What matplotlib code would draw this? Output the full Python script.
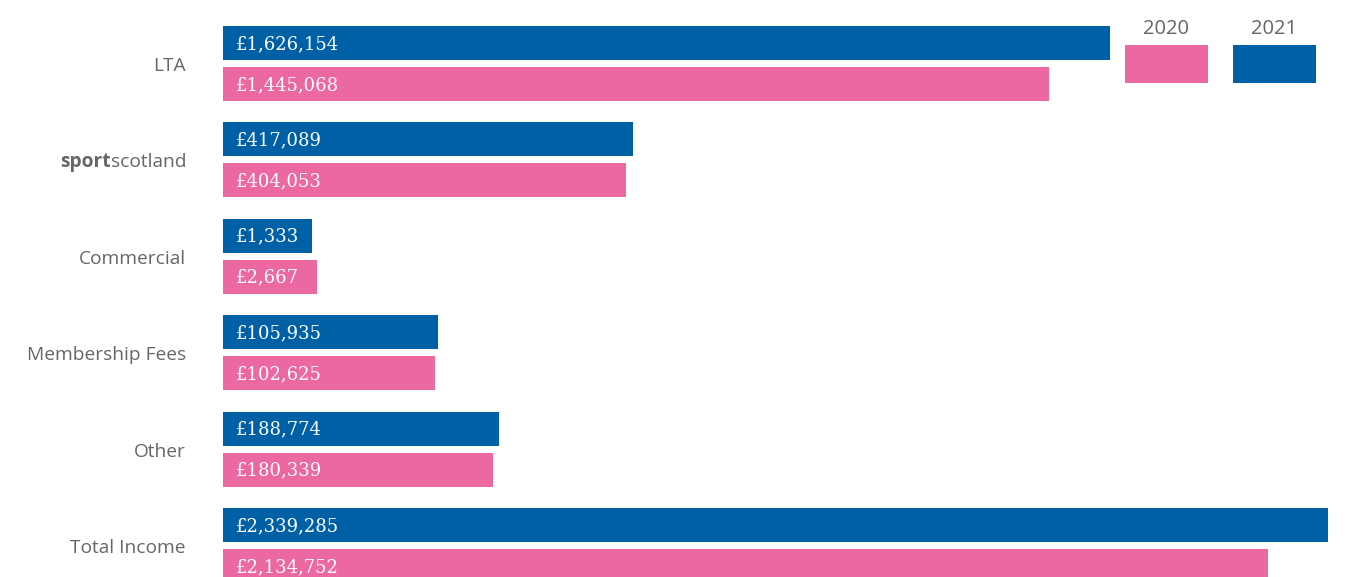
import numpy as np
import matplotlib; matplotlib.use("Agg"); import matplotlib.pyplot as plt
from matplotlib.patches import Rectangle

categories = ["LTA", "sportscotland", "Commercial", "Membership Fees", "Other", "Total Income"]
income_2021 = [1626154, 417089, 1333, 105935, 188774, 2339285]
income_2020 = [1445068, 404053, 2667, 102625, 180339, 2134752]
years = ["2020", "2021"]

blue = "#0060A6"; pink = "#EC68A1"; grey = "#666666"
W, H, DPI = 1365, 577, 100
PX = 72 / DPI  # points per pixel

# bar length scale: a floor wide enough for the label, then a power curve
p = 0.66; floor = 82.0; c = 0.064
fwd = lambda v: np.where(np.asarray(v) > 0, floor + c * np.abs(v) ** p, 0.0)
inv = lambda x: np.where(np.asarray(x) > floor, (np.clip(x - floor, 0, None) / c) ** (1 / p), 0.0)

fig = plt.figure(figsize=(W / DPI, H / DPI), dpi=DPI)
left = 223
ax = fig.add_axes([left / W, 0, (W - left) / W, 1])
ax.set_xscale("function", functions=(fwd, inv))
ax.set_xlim(0, float(inv(W - left)))
ax.set_ylim(H, 0)
ax.axis("off")

pitch, bh = 96.4, 34
y21 = [43 + pitch * i for i in range(len(categories))]
y20 = [84 + pitch * i for i in range(len(categories))]
ax.barh(y21, income_2021, height=bh, color=blue, lw=0)
ax.barh(y20, income_2020, height=bh, color=pink, lw=0)

def lab(y, txt, dx, **kw):
    return ax.annotate(txt, xy=(0, y), xycoords=("axes fraction", "data"),
                       xytext=(dx * PX, 0), textcoords="offset points", va="center", **kw)

for y, v in zip(y21 + y20, income_2021 + income_2020):
    lab(y + 1, f"£{v:,}", 13, ha="left", color="white", fontsize=13, family="DejaVu Serif")

fig.canvas.draw()
cat_kw = dict(ha="right", color=grey, fontsize=13.8, family="Open Sans")
for i, name in enumerate(categories):
    yc = 66 + pitch * i
    if name == "sportscotland":
        t = lab(yc, "scotland", -37, **cat_kw)
        fig.canvas.draw()
        x0 = t.get_window_extent().x0 - left
        lab(yc, "sport", x0, weight="bold", **cat_kw)
    else:
        lab(yc, name, -37, **cat_kw)

# legend
for x0, yr, col in [(1125, years[0], pink), (1233, years[1], blue)]:
    fig.patches.append(Rectangle((x0 / W, 1 - 83 / H), 83 / W, 38 / H,
                                 transform=fig.transFigure, color=col, lw=0))
    fig.text((x0 + 41.5) / W, 1 - 29 / H, yr, ha="center", va="center",
             color=grey, fontsize=14.5, family="Open Sans")

fig.savefig("out.png", dpi=DPI)
